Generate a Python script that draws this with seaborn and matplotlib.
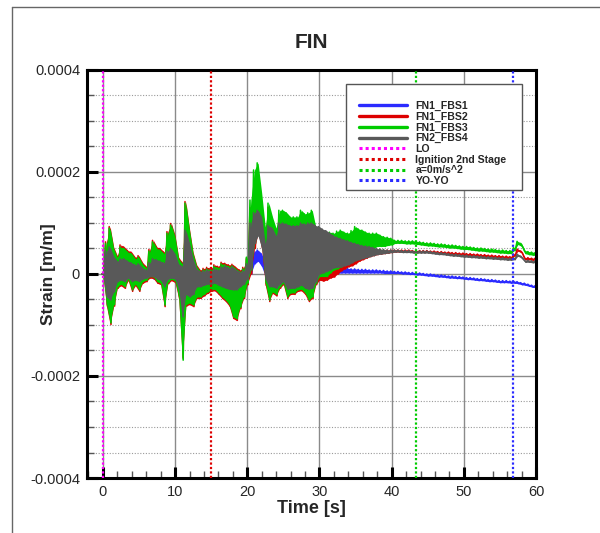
import numpy as np
import pandas as pd
import matplotlib
matplotlib.use("Agg")
import matplotlib.pyplot as plt
import seaborn as sns
from matplotlib.ticker import MultipleLocator
from matplotlib.lines import Line2D
from matplotlib.patches import Rectangle

# ---------------- data (strain envelopes in micro-strain, every 0.5 s) ----------------
series_names = ["FN1_FBS1", "FN1_FBS2", "FN1_FBS3", "FN2_FBS4"]
series_colors = ["#2b2bff", "#dd0000", "#00cc00", "#595959"]
time_s = np.arange(0, 60.25, 0.5)

fbs1_hi = [0,20,25,15,12,12,10,8,10,8,8,4,4,6,8,8,8,6,12,14,12,6,8,25,18,10,4,2,4,4,3,4,4,6,6,4,4,2,2,4,8,
           30,45,47,40,20,
           10,12,12,14,14,12,12,12,12,12,12,12,12,12,
           14,14,14,13,13,12,12,11,11,10,10,9,9,9,8,8,8,7,7,6,6,
           5,5,4,4,3,3,2,2,1,0,0,-1,-2,-2,-3,-4,-4,-5,-5,-6,-7,-7,-8,-9,-9,-10,-11,-11,-12,-13,
           -13,-13,-14,-14,-15,-17,-18,-20,-22,-23]
fbs1_lo = [0,-20,-25,-15,-8,-6,-8,-8,-10,-8,-10,-14,-8,-4,-10,-6,-6,-10,-4,-4,-4,-12,-30,-15,-15,-15,-10,-10,-8,-8,-8,-8,-10,-10,-10,-12,-12,-12,-10,-8,-4,
           0,20,25,15,-5,
           -12,-10,-12,-10,-10,-12,-12,-10,-10,-10,-10,-12,-10,-5,
           -2,-1,0,0,1,1,2,2,2,2,2,2,2,2,2,2,2,2,1,1,1,
           1,1,0,0,-1,-1,-2,-2,-3,-4,-4,-5,-6,-6,-7,-8,-8,-9,-9,-10,-11,-11,-12,-13,-13,-14,-15,-15,-16,-17,
           -17,-17,-18,-18,-19,-21,-22,-24,-26,-27]

fbs2_hi = [0,63,93,53,36,57,53,46,43,33,36,23,15,48,66,53,50,43,83,99,76,33,23,142,89,43,18,8,11,13,11,18,15,23,21,18,19,13,8,13,30,
           130,148,150,140,85,
           131,104,82,117,117,112,104,104,104,117,110,112,117,84,
           75,72,70,66,62,60,60,58,56,55,52,51,50,50,49,49,48,48,47,47,47,
           47,47,47,47,47,46,46,46,46,46,45,45,44,44,43,43,42,42,41,41,40,40,39,39,38,38,37,37,36,36,
           35,35,34,39,49,45,32,32,31,31]
fbs2_lo = [0,-63,-99,-63,-28,-23,-28,-13,-34,-23,-34,-18,-15,-8,-9,-18,-21,-64,-19,-13,-17,-48,-165,-63,-60,-64,-48,-48,-43,-38,-34,-33,-40,-48,-54,-63,-87,-91,-68,-48,-21,
           0,50,80,50,-22,
           -54,-38,-43,-28,-21,-48,-40,-40,-34,-33,-40,-54,-48,-21,
           -12,-14,-12,-8,-6,0,6,10,14,16,20,25,28,31,34,36,38,39,40,41,42,
           43,43,43,43,43,42,42,42,42,42,41,41,40,40,39,39,38,38,37,37,36,36,35,35,34,34,33,33,32,32,
           31,31,30,35,45,41,28,28,27,27]

fbs3_hi = [0,60,90,50,33,53,50,43,40,30,33,20,12,45,63,50,47,40,80,96,73,30,20,139,86,40,15,5,8,10,8,15,12,20,18,15,16,10,5,10,33,
           145,204,218,159,92,
           139,112,90,125,125,120,112,112,112,125,118,120,125,92,
           86,85,80,82,80,84,86,82,80,85,93,88,86,82,80,80,80,76,73,72,70,
           66,66,66,65,65,65,64,63,62,61,61,60,59,59,58,57,57,56,55,54,54,53,52,51,51,50,49,49,48,47,
           47,46,46,52,64,60,46,44,43,42]
fbs3_lo = [0,-60,-96,-60,-25,-20,-25,-10,-31,-20,-31,-15,-12,-5,-6,-15,-18,-61,-16,-10,-14,-45,-169,-60,-57,-61,-45,-45,-40,-35,-31,-30,-37,-45,-51,-60,-84,-88,-65,-45,-18,
           8,60,100,60,-18,
           -51,-35,-40,-25,-18,-45,-37,-37,-31,-30,-37,-51,-45,-18,
           -5,-5,-5,2,8,10,14,18,21,28,34,37,40,44,47,50,54,54,54,56,57,
           60,60,60,59,59,59,58,57,56,55,55,54,53,53,52,51,51,50,49,48,48,47,46,45,45,44,43,43,42,41,
           41,40,40,46,58,54,40,38,37,36]

fbs4_hi = [0,45,53,35,25,30,30,25,22,18,20,12,8,22,30,28,25,22,45,50,40,20,15,86,61,30,10,5,6,8,6,10,8,14,16,12,14,8,4,6,20,
           100,120,125,112,60,
           95,90,75,100,100,98,95,95,95,100,98,100,100,95,
           93,88,85,80,75,72,70,67,65,62,60,58,56,55,54,52,50,49,48,47,47,
           47,47,46,46,46,45,45,45,45,45,44,43,42,42,41,40,39,39,38,37,37,36,36,35,35,34,34,33,33,32,
           32,31,31,32,39,35,27,27,26,26]
fbs4_lo = [0,-45,-51,-35,-15,-12,-15,-8,-15,-12,-15,-10,-8,-5,-5,-10,-12,-25,-10,-8,-10,-30,-84,-40,-45,-40,-25,-25,-22,-20,-20,-18,-22,-25,-28,-30,-31,-31,-25,-20,-10,
           10,60,75,50,-10,
           -25,-25,-28,-20,-15,-30,-28,-28,-25,-22,-28,-30,-28,-15,
           0,2,5,8,12,13,14,16,18,22,26,28,30,32,34,36,38,39,40,41,42,
           43,43,42,42,42,41,41,41,41,41,40,39,38,38,37,36,35,35,34,33,33,32,32,31,31,30,30,29,29,28,
           28,27,27,28,35,31,23,23,22,22]

event_labels = ["LO", "Ignition 2nd Stage", "a=0m/s^2", "YO-YO"]
event_times = [0.0, 14.95, 43.35, 56.85]
event_colors = ["#ff00ff", "#dd0000", "#00cc00", "#2b2bff"]

xtick_vals = [0, 10, 20, 30, 40, 50, 60]
ytick_vals = [-0.0004, -0.0002, 0.0, 0.0002, 0.0004]
ytick_labels = ["-0.0004", "-0.0002", "0", "0.0002", "0.0004"]

# ---------------- build long table (signal zig-zags between its envelopes) ----------------
envelopes = {
    "FN1_FBS1": (fbs1_hi, fbs1_lo),
    "FN1_FBS2": (fbs2_hi, fbs2_lo),
    "FN1_FBS3": (fbs3_hi, fbs3_lo),
    "FN2_FBS4": (fbs4_hi, fbs4_lo),
}
rows = []
for name, (hi, lo) in envelopes.items():
    assert len(hi) == len(time_s) and len(lo) == len(time_s), name
    for t, h, l in zip(time_s, hi, lo):
        rows.append((name, t - 0.125, h * 1e-6))
        rows.append((name, t + 0.125, l * 1e-6))
df = pd.DataFrame(rows, columns=["series", "time", "strain"])

# ---------------- plot ----------------
sns.set_style("white")
plt.rcParams["font.family"] = ["Liberation Sans", "DejaVu Sans"]

fig = plt.figure(figsize=(6.0, 5.33), dpi=100)
ax = fig.add_axes([87 / 600, 1 - 478 / 533, (536 - 87) / 600, (478 - 70) / 533])

for name, color in zip(series_names, series_colors):
    hi, lo = envelopes[name]
    ax.fill_between(time_s, np.array(lo) * 1e-6, np.array(hi) * 1e-6,
                    color=color, lw=0, zorder=2)
    sns.lineplot(data=df[df["series"] == name], x="time", y="strain", color=color,
                 estimator=None, sort=False, lw=1.1, legend=False, ax=ax, zorder=2)

for t, c in zip(event_times, event_colors):
    ax.axvline(t, color=c, lw=1.6, ls=(0, (1, 1)), zorder=5)

ax.set_xlim(-2.2, 60)
ax.set_ylim(-0.0004, 0.0004)
ax.set_xticks(xtick_vals)
ax.set_xticklabels([str(v) for v in xtick_vals])
ax.set_yticks(ytick_vals)
ax.set_yticklabels(ytick_labels)
ax.xaxis.set_minor_locator(MultipleLocator(2))
ax.yaxis.set_minor_locator(MultipleLocator(0.00005))

ax.set_axisbelow(True)
ax.grid(which="major", axis="both", color="#8a8a8a", lw=1.0, ls="-")
ax.grid(which="minor", axis="y", color="#9a9a9a", lw=0.8, ls=(0, (1, 1.5)))

ax.tick_params(which="major", direction="in", length=8, width=2.2, color="black",
               labelsize=10.5, pad=5, left=True, bottom=True, top=False, right=False)
ax.tick_params(which="minor", direction="in", length=5, width=1.0, color="#555555",
               left=True, bottom=True, top=False, right=False)
for sp in ax.spines.values():
    sp.set_visible(True)
    sp.set_color("black")
    sp.set_linewidth(2.2)

ax.set_xlabel("Time [s]", fontsize=13, fontweight="bold")
ax.set_ylabel("Strain [m/m]", fontsize=12.5, fontweight="bold")
ax.xaxis.set_label_coords(0.5, -0.055)
ax.yaxis.set_label_coords(-0.068, 0.5)
ax.set_title("FIN", fontsize=15, fontweight="bold", pad=16)

# legend frame (drawn separately) + frameless legend
ax_w, ax_h = 536 - 87, 478 - 70
frame = Rectangle(((346 - 87) / ax_w, (478 - 190) / ax_h), (522 - 346) / ax_w, (190 - 84) / ax_h,
                  transform=ax.transAxes, facecolor="white", edgecolor="#555555", lw=1.0,
                  zorder=9)
ax.add_patch(frame)

handles = [Line2D([], [], color=c, lw=2.4) for c in series_colors]
handles += [Line2D([], [], color=c, lw=2.2, ls=(0, (1, 1))) for c in event_colors]
labels = series_names + event_labels
leg = ax.legend(handles, labels, loc="upper left",
                bbox_to_anchor=((359 - 87) / ax_w, (478 - 101) / ax_h),
                prop={"size": 7.6, "weight": "bold"}, frameon=False,
                handlelength=4.5, handletextpad=0.85,
                labelspacing=0.06, borderpad=0, borderaxespad=0)
leg.set_zorder(10)

# outer figure frame lines
fig.add_artist(Line2D([12 / 600, 12 / 600], [0, 1 - 7 / 533], transform=fig.transFigure,
                      color="#666666", lw=1.0))
fig.add_artist(Line2D([12 / 600, 1], [1 - 7 / 533, 1 - 7 / 533], transform=fig.transFigure,
                      color="#666666", lw=1.0))

fig.savefig("out.png", dpi=100)
